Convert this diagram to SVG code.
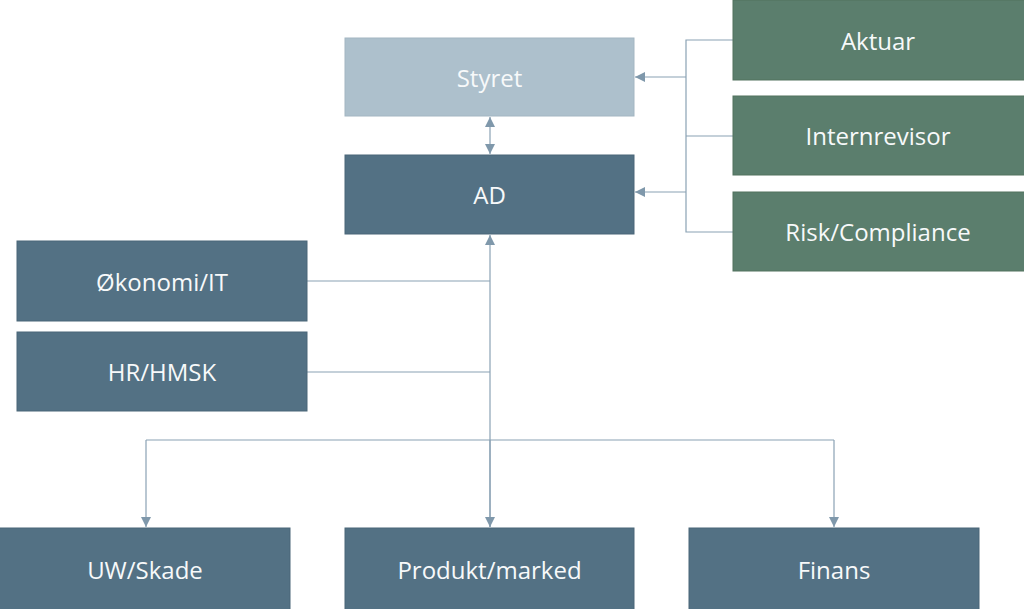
<svg xmlns="http://www.w3.org/2000/svg" width="1024" height="609" viewBox="0 0 1024 609">
<defs>
<style>
.blue{fill:#537184;stroke:#4b6778;stroke-width:1}
.light{fill:#adc0cc;stroke:#a3b6c2;stroke-width:1}
.green{fill:#5b7e6d;stroke:#52725f;stroke-width:1}
.t{font-family:"Open Sans","Liberation Sans",sans-serif;font-size:24px;fill:#f7f9fa;text-anchor:middle;dominant-baseline:central}
.c{fill:none;stroke:#8aa2b4;stroke-width:1.2}
</style>
<marker id="ah" viewBox="0 0 10 10" refX="10" refY="5" markerWidth="10" markerHeight="10" markerUnits="userSpaceOnUse" orient="auto-start-reverse">
<path d="M0,0 L10,5 L0,10 z" fill="#7f98ab"/>
</marker>
</defs>
<rect width="1024" height="609" fill="#ffffff"/>
<g id="connectors">
<path class="c" d="M733,40 H686 V232 H733"/>
<path class="c" d="M686,136 H733"/>
<path class="c" d="M686,77 H635" marker-end="url(#ah)"/>
<path class="c" d="M686,192 H635" marker-end="url(#ah)"/>
<path class="c" d="M490,117 V154" marker-start="url(#ah)" marker-end="url(#ah)"/>
<path class="c" d="M490,527 V235" marker-end="url(#ah)"/>
<path class="c" d="M307,281 H490"/>
<path class="c" d="M307,372 H490"/>
<path class="c" d="M146,440 H834"/>
<path class="c" d="M146,440 V527" marker-end="url(#ah)"/>
<path class="c" d="M834,440 V527" marker-end="url(#ah)"/>
<path class="c" d="M490,440 V527" marker-end="url(#ah)"/>
</g>
<g id="styret"><rect class="light" x="345" y="38" width="289" height="78"/><text class="t" x="489.5" y="77">Styret</text></g>
<g id="ad"><rect class="blue" x="345" y="155" width="289" height="79"/><text class="t" x="489.5" y="194.5">AD</text></g>
<g id="aktuar"><rect class="green" x="733" y="0" width="292" height="80"/><text class="t" x="878" y="40">Aktuar</text></g>
<g id="internrevisor"><rect class="green" x="733" y="96" width="292" height="79"/><text class="t" x="878" y="135.5">Internrevisor</text></g>
<g id="risk"><rect class="green" x="733" y="192" width="292" height="79"/><text class="t" x="878" y="231.5">Risk/Compliance</text></g>
<g id="okonomi"><rect class="blue" x="17" y="241" width="290" height="80"/><text class="t" x="162" y="281">Økonomi/IT</text></g>
<g id="hr"><rect class="blue" x="17" y="332" width="290" height="79"/><text class="t" x="162" y="371.5">HR/HMSK</text></g>
<g id="uw"><rect class="blue" x="-1" y="528" width="291" height="82"/><text class="t" x="145" y="569">UW/Skade</text></g>
<g id="produkt"><rect class="blue" x="345" y="528" width="289" height="82"/><text class="t" x="489.5" y="569">Produkt/marked</text></g>
<g id="finans"><rect class="blue" x="689" y="528" width="290" height="82"/><text class="t" x="834" y="569">Finans</text></g>
</svg>
